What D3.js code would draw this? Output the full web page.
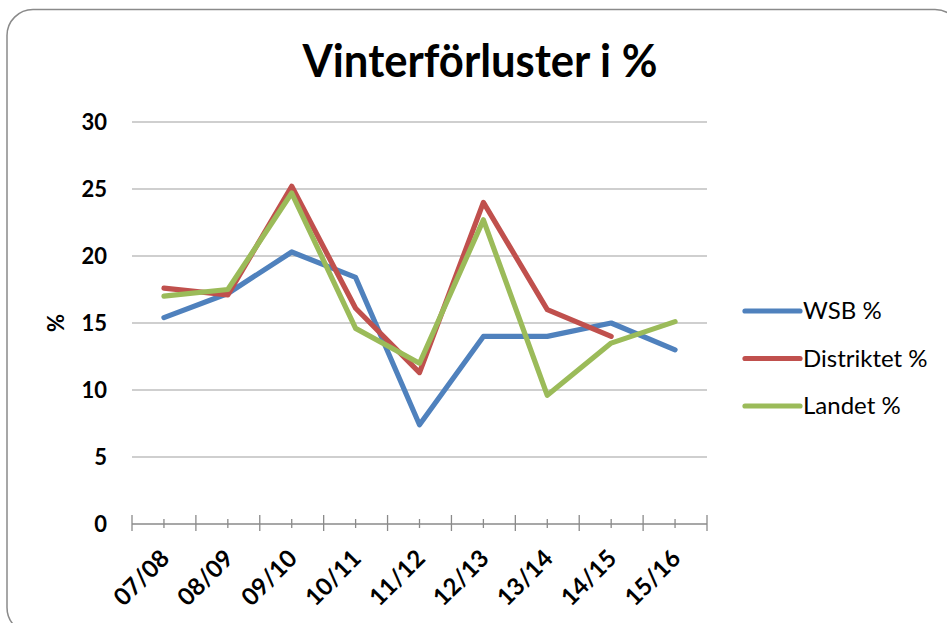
<!DOCTYPE html>
<html>
<head>
<meta charset="utf-8">
<script src="https://d3js.org/d3.v7.min.js"></script>
<style>
  body { margin: 0; background: #fff; }
  text { font-family: Lato, "Open Sans", sans-serif; }
</style>
</head>
<body>
<script>

// data
var categories = ["07/08", "08/09", "09/10", "10/11", "11/12", "12/13", "13/14", "14/15", "15/16"];
var wsb = [15.4, 17.2, 20.3, 18.4, 7.4, 14.0, 14.0, 15.0, 13.0];
var distriktet = [17.6, 17.1, 25.2, 16.1, 11.3, 24.0, 16.0, 14.0, null];
var landet = [17.0, 17.5, 24.7, 14.6, 12.0, 22.7, 9.6, 13.5, 15.1];
var seriesNames = ["WSB %", "Distriktet %", "Landet %"];
var seriesColors = ["#4f81bd", "#c0504d", "#9bbb59"];
var yTicks = [0, 5, 10, 15, 20, 25, 30];

var width = 947, height = 623;
var plotLeft = 132, plotRight = 707, plotTop = 122, plotBottom = 524;

var svg = d3.select("body").append("svg")
    .attr("width", width)
    .attr("height", height);

// chart border (rounded, runs off the right and bottom)
svg.append("rect")
    .attr("x", 7).attr("y", 9.5)
    .attr("width", 954).attr("height", 624)
    .attr("rx", 26).attr("ry", 26)
    .attr("fill", "#fff")
    .attr("stroke", "#8a8a8a")
    .attr("stroke-width", 1.5);

var x = d3.scalePoint().domain(categories).range([plotLeft, plotRight]).padding(0.5);
var y = d3.scaleLinear().domain([0, 30]).range([plotBottom, plotTop]);

// title
svg.append("text")
    .attr("x", 480).attr("y", 77)
    .attr("text-anchor", "middle")
    .attr("font-size", "46px")
    .attr("font-weight", "bold")
    .attr("textLength", 355)
    .attr("lengthAdjust", "spacingAndGlyphs")
    .text("Vinterförluster i %");

// gridlines
svg.append("g").selectAll("line")
    .data(yTicks.filter(function(d) { return d > 0; }))
    .enter().append("line")
    .attr("x1", plotLeft).attr("x2", plotRight)
    .attr("y1", function(d) { return y(d); })
    .attr("y2", function(d) { return y(d); })
    .attr("stroke", "#bfbfbf")
    .attr("stroke-width", 1.3);

// y axis labels
var yAxis = svg.append("g")
    .attr("transform", "translate(" + plotLeft + ",0)")
    .call(d3.axisLeft(y).tickValues(yTicks).tickSize(0).tickPadding(25));
yAxis.select(".domain").remove();
yAxis.selectAll("text")
    .attr("font-family", "Lato, sans-serif")
    .attr("font-size", "22px")
    .attr("font-weight", "bold")
    .attr("fill", "#000");

svg.append("text")
    .attr("transform", "translate(64," + y(15) + ") rotate(-90)")
    .attr("text-anchor", "middle")
    .attr("font-size", "22px")
    .attr("font-weight", "bold")
    .text("%");

// x axis line + ticks
var step = x.step();
var bounds = d3.range(categories.length + 1).map(function(i) { return plotLeft + i * step; });

svg.append("line")
    .attr("x1", plotLeft).attr("x2", plotRight)
    .attr("y1", plotBottom).attr("y2", plotBottom)
    .attr("stroke", "#8a8a8a").attr("stroke-width", 1.3);

svg.append("g").selectAll("line")
    .data(bounds)
    .enter().append("line")
    .attr("x1", function(d) { return d; }).attr("x2", function(d) { return d; })
    .attr("y1", plotBottom - 9).attr("y2", plotBottom + 7)
    .attr("stroke", "#8a8a8a").attr("stroke-width", 1.3);

svg.append("g").selectAll("line")
    .data(categories)
    .enter().append("line")
    .attr("x1", function(d) { return x(d); }).attr("x2", function(d) { return x(d); })
    .attr("y1", plotBottom - 5).attr("y2", plotBottom + 4)
    .attr("stroke", "#8a8a8a").attr("stroke-width", 1.3);

svg.append("g").selectAll("text")
    .data(categories)
    .enter().append("text")
    .attr("transform", function(d) { return "translate(" + (x(d) + 7) + "," + (plotBottom + 36) + ") rotate(-45)"; })
    .attr("text-anchor", "end")
    .attr("font-size", "24px")
    .attr("font-weight", "bold")
    .text(function(d) { return d; });

// lines
var allSeries = [wsb, distriktet, landet];
var line = d3.line()
    .defined(function(d) { return d != null; })
    .x(function(d, i) { return x(categories[i]); })
    .y(function(d) { return y(d); });

svg.append("g").selectAll("path")
    .data(allSeries)
    .enter().append("path")
    .attr("d", line)
    .attr("fill", "none")
    .attr("stroke", function(d, i) { return seriesColors[i]; })
    .attr("stroke-width", 5.2)
    .attr("stroke-linejoin", "round")
    .attr("stroke-linecap", "round");

// legend
var legend = svg.append("g").selectAll("g")
    .data(seriesNames)
    .enter().append("g")
    .attr("transform", function(d, i) { return "translate(745," + (311 + i * 47.5) + ")"; });

legend.append("line")
    .attr("x1", 0).attr("x2", 55)
    .attr("stroke", function(d, i) { return seriesColors[i]; })
    .attr("stroke-width", 5.2)
    .attr("stroke-linecap", "round");

legend.append("text")
    .attr("x", 58).attr("y", 8)
    .attr("font-size", "24px")
    .text(function(d) { return d; });

</script>
</body>
</html>
